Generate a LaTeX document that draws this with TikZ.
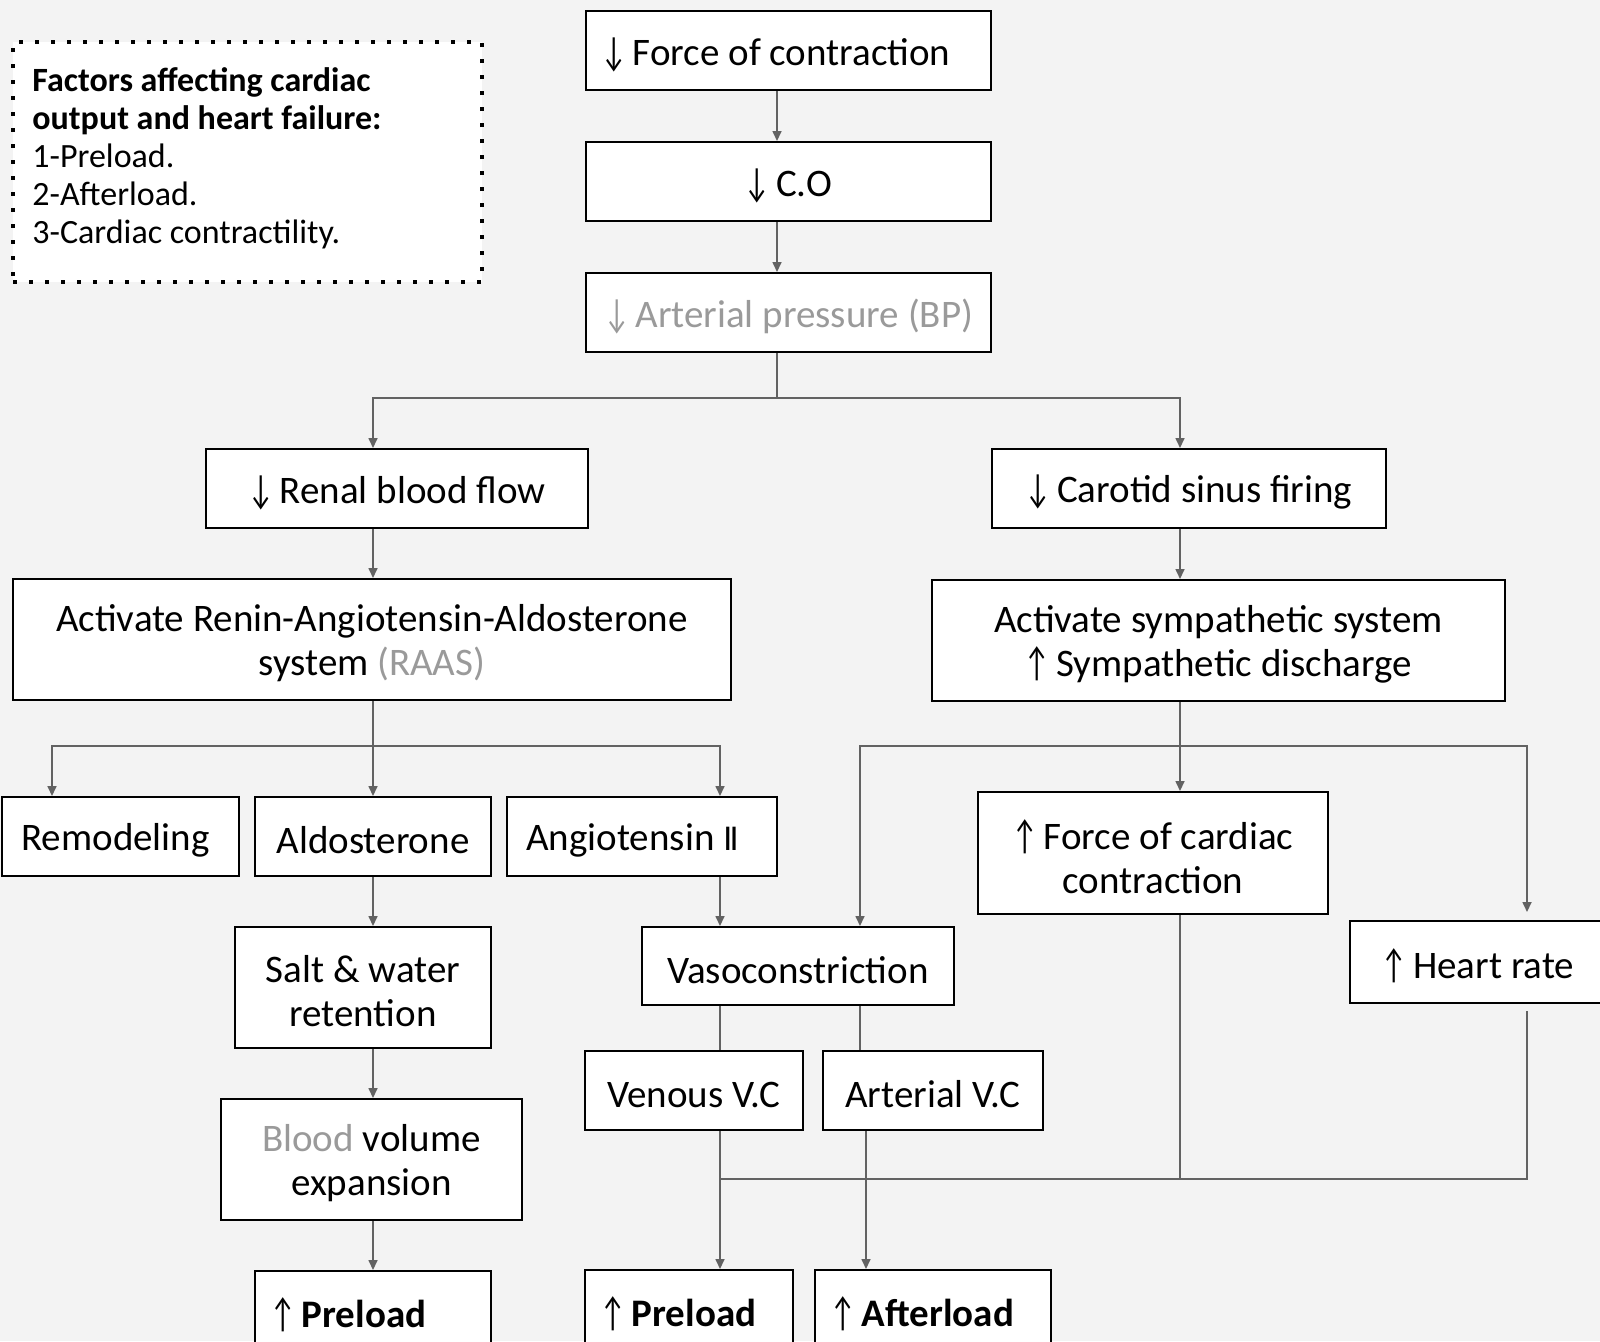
\documentclass[tikz,border=0pt]{standalone}
\usepackage{fontspec}
\usepackage{graphicx}
\setmainfont{Carlito}
\newfontfamily\djv{DejaVu Sans}
\usetikzlibrary{arrows.meta}
\definecolor{bg}{HTML}{F3F3F3}
\definecolor{lnc}{HTML}{626262}
\definecolor{gtx}{HTML}{9A9A9A}
\newcommand\dn{\scalebox{0.72}[1.05]{↓}\hspace{3pt}}
\newcommand\upa{\scalebox{0.72}[1.05]{↑}\hspace{3pt}}
\tikzset{
 box/.style={draw=black,line width=1pt,fill=white,inner sep=0pt},
 txt/.style={inner sep=0pt,align=center,font=\fontsize{19.5}{22}\selectfont},
 ln/.style={draw=lnc,line width=0.8pt},
 arr/.style={ln,-{Triangle[length=5pt,width=4.5pt]}},
 legbox/.style={draw=black,line width=2pt,dash pattern=on 2pt off 6pt,fill=white,inner sep=0pt},
}
\newcommand\bx[7][]{%
 \pgfmathsetmacro\bw{(#5-#3)*0.5}%
 \pgfmathsetmacro\bh{(#6-#4)*0.5}%
 \node[box,minimum width=\bw pt,minimum height=\bh pt] (#2) at ({(#3+#5)/2},{(#4+#6)/2}) {};
 \node[txt,#1] (#2-t) at ({(#3+#5)/2},{(#4+#6)/2+4}) {#7};}
\newcommand\bxl[7][]{%
 \pgfmathsetmacro\bw{(#5-#3)*0.5}%
 \pgfmathsetmacro\bh{(#6-#4)*0.5}%
 \node[box,minimum width=\bw pt,minimum height=\bh pt] (#2) at ({(#3+#5)/2},{(#4+#6)/2}) {};
 \node[txt,anchor=west,align=left,#1] (#2-t) at ({#3+15},{(#4+#6)/2+4}) {#7};}
\begin{document}
\begin{tikzpicture}[x=0.5pt,y=-0.5pt]
\fill[bg] (0,0) rectangle (1600,1341);
\useasboundingbox (0,0) rectangle (1600,1341);
% legend
\node[legbox,minimum width=234.5pt,minimum height=120pt] (leg) at (247.5,162) {};
\node[anchor=north west,align=left,inner sep=0pt,font=\fontsize{17}{19}\selectfont] (legt) at (32,67)
 {\textbf{Factors affecting cardiac}\\\textbf{output and heart failure:}\\1-Preload.\\2-Afterload.\\3-Cardiac contractility.};
% boxes
\bxl{f1}{586}{11}{991}{90}{\dn Force of contraction}
\bx{co}{586}{142}{991}{221}{\dn C.O}
\bx{ap}{586}{273}{991}{352}{\textcolor{gtx}{\dn Arterial pressure (BP)}}
\bx{renal}{206}{449}{588}{528}{\dn Renal blood flow}
\bx{car}{992}{449}{1386}{528}{\dn Carotid sinus firing}
\bx{raas}{13}{579}{731}{700}{Activate Renin-Angiotensin-Aldosterone\\system \textcolor{gtx}{(RAAS)}}
\bx{sym}{932}{580}{1505}{701}{Activate sympathetic system\\\upa Sympathetic discharge}
\bxl[xshift=2pt]{rem}{2}{797}{239}{876}{Remodeling}
\bx{ald}{255}{797}{491}{876}{Aldosterone}
\bxl[xshift=2pt]{ang}{507}{797}{777}{876}{Angiotensin {\djv\fontsize{16}{18}\selectfont Ⅱ}}
\bx{salt}{235}{927}{491}{1048}{Salt \& water\\retention}
\bx{vaso}{642}{927}{954}{1005}{Vasoconstriction}
\bx{blood}{221}{1099}{522}{1220}{\textcolor{gtx}{Blood} volume\\expansion}
\bxl{pl}{255}{1271}{491}{1351}{\upa\textbf{Preload}}
\bx{fcc}{978}{792}{1328}{914}{\upa Force of cardiac\\contraction}
\bx{hr}{1350}{921}{1606}{1003}{\upa Heart rate}
\bx{ven}{585}{1051}{803}{1130}{Venous V.C}
\bx{art}{823}{1051}{1043}{1130}{Arterial V.C}
\bxl{pm}{585}{1270}{793}{1350}{\upa\textbf{Preload}}
\bxl{aft}{815}{1270}{1051}{1350}{\upa\textbf{Afterload}}
% columns and junctions
\coordinate (cA) at (777,0);
\coordinate (cL) at (373,0);
\coordinate (cR) at (1180,0);
\coordinate (cRem) at (52,0);
\coordinate (cAng) at (720,0);
\coordinate (cVr) at (860,0);
\coordinate (cArt) at (866,0);
\coordinate (cHR) at (1527,0);
\coordinate (j1) at (777,398);
\coordinate (j2) at (373,746);
\coordinate (j3) at (1180,746);
\coordinate (j4) at (720,1179);
% connectors
\draw[arr] (f1.south -| cA) -- (co.north -| cA);
\draw[arr] (co.south -| cA) -- (ap.north -| cA);
\draw[ln] (ap.south -| cA) -- (j1);
\draw[arr] (j1) -| (renal.north -| cL);
\draw[arr] (j1) -| (car.north -| cR);
\draw[arr] (renal.south -| cL) -- (raas.north -| cL);
\draw[arr] (car.south -| cR) -- (sym.north -| cR);
\draw[arr] (raas.south -| cL) -- (ald.north -| cL);
\draw[arr] (j2) -| (rem.north -| cRem);
\draw[arr] (j2) -| (ang.north -| cAng);
\draw[arr] (ald.south -| cL) -- (salt.north -| cL);
\draw[arr] (salt.south -| cL) -- (blood.north -| cL);
\draw[arr] (blood.south -| cL) -- (pl.north -| cL);
\draw[arr] (ang.south -| cAng) -- (vaso.north -| cAng);
\draw[ln] (vaso.south -| cAng) -- (ven.north -| cAng);
\draw[ln] (vaso.south -| cVr) -- (art.north -| cVr);
\draw[arr] (sym.south -| cR) -- (fcc.north -| cR);
\draw[arr] (j3) -| (vaso.north -| cVr);
\draw[arr,shorten >=4pt] (j3) -| (hr.north -| cHR);
\draw[arr] (ven.south -| cAng) -- (pm.north -| cAng);
\draw[arr] (art.south -| cArt) -- (aft.north -| cArt);
\draw[ln] (fcc.south -| cR) |- (j4);
\draw[ln] ([yshift=-3.5pt]hr.south -| cHR) |- (j4);
\end{tikzpicture}
\end{document}
